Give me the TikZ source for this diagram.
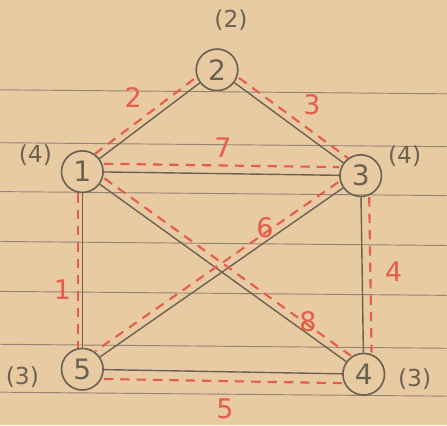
\documentclass[tikz,border=0pt]{standalone}
\usepackage{fontspec}
\setmainfont{DejaVu Sans}
\definecolor{paper}{RGB}{232,202,163}
\definecolor{ink}{RGB}{108,98,82}
\definecolor{redpen}{RGB}{230,92,74}
\definecolor{ruling}{RGB}{150,132,112}
\tikzset{
  vertex/.style={circle,draw=ink,line width=1.4pt,minimum size=1.25cm,inner sep=0pt,text=ink,font=\fontsize{24}{26}\selectfont},
  degree/.style={text=ink,font=\fontsize{20}{22}\selectfont},
  weight/.style={text=redpen,font=\fontsize{23}{25}\selectfont},
  edge/.style={draw=ink,line width=1.2pt},
  tree/.style={draw=redpen,line width=1.8pt,dash pattern=on 8pt off 6pt}
}
\begin{document}
\begin{tikzpicture}[x=0.03cm,y=-0.03cm]
  \fill[paper] (0,0) rectangle (447,426);
  % ruled paper
  \foreach \Y in {90,143,192,242,292,345,393} {
    \draw[ruling,line width=0.8pt] (0,\Y) -- (447,\Y+4);}

  \node[vertex] (v1) at (82,172) {1};
  \node[vertex] (v2) at (217,70) {2};
  \node[vertex] (v3) at (361,176) {3};
  \node[vertex] (v4) at (364,375) {4};
  \node[vertex] (v5) at (82,370) {5};

  \node[degree] (d1) at (35,155) {(4)};
  \node[degree] (d2) at (231,20) {(2)};
  \node[degree] (d3) at (405,157) {(4)};
  \node[degree] (d4) at (415,380) {(3)};
  \node[degree] (d5) at (22,378) {(3)};

  \draw[edge] (v1) -- (v2);
  \draw[edge] (v2) -- (v3);
  \draw[edge] (v1) -- (v3);
  \draw[edge] (v1) -- (v5);
  \draw[edge] (v1) -- (v4);
  \draw[edge] (v3) -- (v5);
  \draw[edge] (v3) -- (v4);
  \draw[edge] (v5) -- (v4);

  \draw[tree,transform canvas={shift={(-4pt,4pt)}}] (v1) -- (v2);
  \draw[tree,transform canvas={shift={(4pt,4pt)}}] (v2) -- (v3);
  \draw[tree,transform canvas={shift={(0pt,7pt)}}] (v1) -- (v3);
  \draw[tree,transform canvas={shift={(-4pt,0pt)}}] (v1) -- (v5);
  \draw[tree,transform canvas={shift={(4pt,5pt)}}] (v1) -- (v4);
  \draw[tree,transform canvas={shift={(-4pt,5pt)}}] (v3) -- (v5);
  \draw[tree,transform canvas={shift={(7pt,0pt)}}] (v3) -- (v4);
  \draw[tree,transform canvas={shift={(0pt,-8pt)}}] (v5) -- (v4);

  \node[weight] (w12) at (133,98) {2};
  \node[weight] (w23) at (312,105) {3};
  \node[weight] (w13) at (223,148) {7};
  \node[weight] (w35) at (265,228) {6};
  \node[weight] (w15) at (62,290) {1};
  \node[weight] (w34) at (394,272) {4};
  \node[weight] (w14) at (308,322) {8};
  \node[weight] (w54) at (225,410) {5};
\end{tikzpicture}
\end{document}
